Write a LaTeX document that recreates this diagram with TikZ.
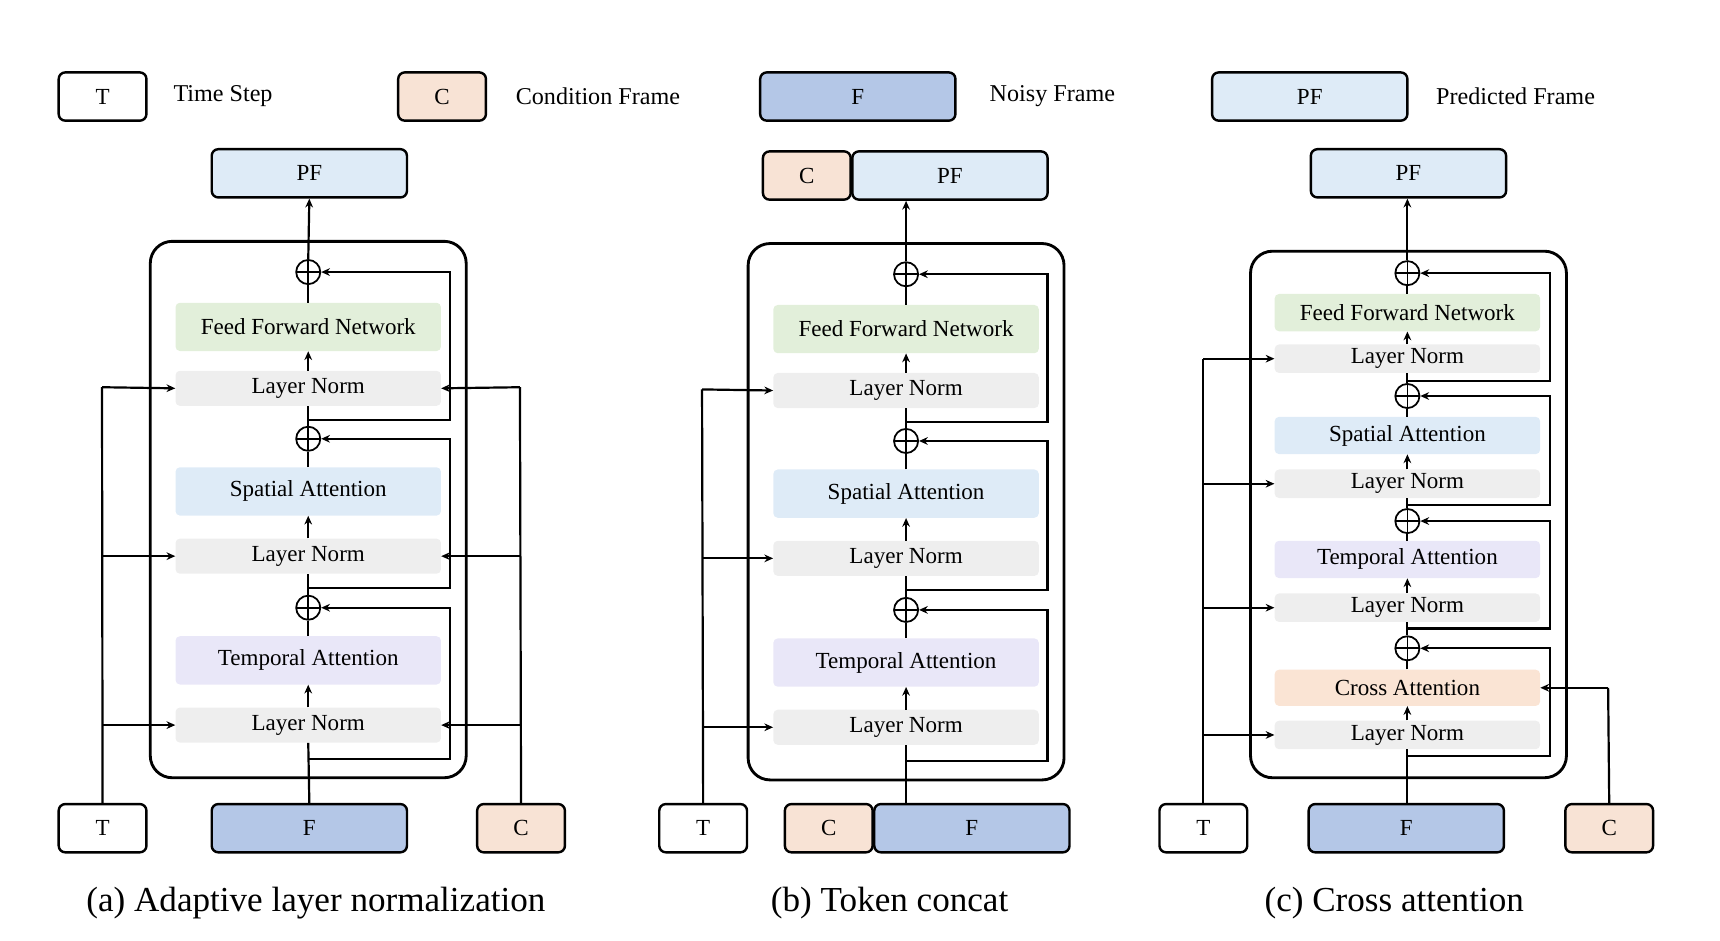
\documentclass[tikz,border=0pt]{standalone}
\usepackage{fontspec}
\setmainfont{Liberation Serif}
\usetikzlibrary{arrows.meta}
\definecolor{cG}{HTML}{E2EFDA}
\definecolor{cB}{HTML}{DEEBF7}
\definecolor{cP}{HTML}{E9E7F8}
\definecolor{cL}{HTML}{EEEEEE}
\definecolor{cO}{HTML}{FAE4D4}
\definecolor{cF}{HTML}{B4C7E7}
\definecolor{cC}{HTML}{F8E3D5}
\tikzset{
 base/.style={inner sep=0pt,font=\fontsize{21}{21}\selectfont},
 blk/.style={base,rounded corners=4pt,minimum width=242pt},
 ln/.style={blk,fill=cL,minimum height=32pt},
 big/.style={blk,minimum height=44pt},
 key/.style={base,draw,line width=2.2pt,rounded corners=6pt,minimum height=44pt},
 kT/.style={key,fill=white,minimum width=80pt},
 kC/.style={key,fill=cC,minimum width=80pt},
 kF/.style={key,fill=cF,minimum width=178pt},
 kPF/.style={key,fill=cB,minimum width=178pt},
 plus/.style={circle,draw,line width=1.6pt,minimum size=22pt,inner sep=0pt,
   path picture={\draw[line width=1.6pt] (path picture bounding box.north)--(path picture bounding box.south) (path picture bounding box.west)--(path picture bounding box.east);}},
 ln2/.style={line width=2pt},
 arr/.style={line width=2pt,-{Stealth[length=8pt,width=7pt]}},
 outer/.style={line width=2.6pt,rounded corners=20pt},
 captxt/.style={base,font=\fontsize{32}{32}\selectfont,anchor=base},
 leg/.style={base,anchor=west,font=\fontsize{22}{22}\selectfont},
}
\begin{document}
\begin{tikzpicture}[x=1pt,y=-1pt]
\useasboundingbox (0,0) rectangle (1568,857);
% legend
\node[kT] (lT) at (93.5,88) {T};
\node[leg] (lTt) at (158,88) {Time Step};
\node[kC] (lC) at (403,88) {C};
\node[leg] (lCt) at (470,88) {Condition Frame};
\node[kF] (lF) at (782,88) {F};
\node[leg] (lFt) at (902,88) {Noisy Frame};
\node[kPF] (lP) at (1194,88) {PF};
\node[leg] (lPt) at (1309,88) {Predicted Frame};

% ---------- panels a and b
\foreach \p/\dx/\dy in {a/0/0,b/545/2}{
\begin{scope}[shift={(\dx,\dy)}]
\draw[outer] (137,220) rectangle (425,709);
\node[big,fill=cG] (\p FF) at (281,298) {Feed Forward Network};
\node[ln] (\p L3) at (281,354) {Layer Norm};
\node[big,fill=cB] (\p SA) at (281,448) {Spatial Attention};
\node[ln] (\p L2) at (281,507) {Layer Norm};
\node[big,fill=cP] (\p TA) at (281,602) {Temporal Attention};
\node[ln] (\p L1) at (281,661) {Layer Norm};
\node[plus] (\p P3) at (281,248) {};
\node[plus] (\p P2) at (281,400) {};
\node[plus] (\p P1) at (281,554) {};
\coordinate (\p r3) at (281,383); \coordinate (\p r3c) at (410,383);
\coordinate (\p r2) at (281,536); \coordinate (\p r2c) at (410,536);
\coordinate (\p r1) at (281,692); \coordinate (\p r1c) at (410,692);
\draw[arr] (\p r3) -- (\p r3c) |- (\p P3.east);
\draw[arr] (\p r2) -- (\p r2c) |- (\p P2.east);
\draw[arr] (\p r1) -- (\p r1c) |- (\p P1.east);
\draw[arr] (\p L1.north) -- (\p TA.south);
\draw[ln2] (\p TA.north) -- (\p P1.south);
\draw[ln2] (\p P1.north) -- (\p L2.south);
\draw[arr] (\p L2.north) -- (\p SA.south);
\draw[ln2] (\p SA.north) -- (\p P2.south);
\draw[ln2] (\p P2.north) -- (\p L3.south);
\draw[arr] (\p L3.north) -- (\p FF.south);
\draw[ln2] (\p FF.north) -- (\p P3.south);
\end{scope}
}
% panel a keys
\node[kPF] (aPF) at (282,158) {PF};
\node[kT] (aT) at (93.5,755) {T};
\node[kF] (aF) at (282,755) {F};
\node[kC] (aC) at (475,755) {C};
\draw[arr] (aP3.north) -- (aPF.south);
\draw[ln2] (aF.north) -- (aL1.south);
\coordinate (aTt) at (93,353); \coordinate (aCt) at (474,353);
\draw[ln2] (aT.north) -- (aTt);
\draw[arr] (aTt) -- (aL3.west);
\draw[arr] (aT.north |- aL2.west) -- (aL2.west);
\draw[arr] (aT.north |- aL1.west) -- (aL1.west);
\draw[ln2] (aC.north) -- (aCt);
\draw[arr] (aCt) -- (aL3.east);
\draw[arr] (aC.north |- aL2.east) -- (aL2.east);
\draw[arr] (aC.north |- aL1.east) -- (aL1.east);
\node[captxt] (aCap) at (288,831) {(a) Adaptive layer normalization};
% panel b keys
\node[kC] (bC2) at (735.5,160) {C};
\node[kPF] (bPF) at (866,160) {PF};
\node[kT] (bT) at (641,755) {T};
\node[kC] (bC) at (755.5,755) {C};
\node[kF] (bF) at (886,755) {F};
\draw[arr] (bP3.north) -- (bPF.south west -| bP3.north);
\draw[ln2] (bF.north west -| bL1.south) -- (bL1.south);
\coordinate (bTt) at (640,355);
\draw[ln2] (bT.north) -- (bTt);
\draw[arr] (bTt) -- (bL3.west);
\draw[arr] (bT.north |- bL2.west) -- (bL2.west);
\draw[arr] (bT.north |- bL1.west) -- (bL1.west);
\node[captxt] (bCap) at (811,831) {(b) Token concat};

% ---------- panel c
\draw[outer] (1140,229) rectangle (1428,709);
\node[blk,fill=cG,minimum height=34pt] (cFF) at (1283,285) {Feed Forward Network};
\node[ln,minimum height=26pt] (cL4) at (1283,327) {Layer Norm};
\node[blk,fill=cB,minimum height=34pt] (cSA) at (1283,397) {Spatial Attention};
\node[ln,minimum height=26pt] (cL3) at (1283,441) {Layer Norm};
\node[blk,fill=cP,minimum height=34pt] (cTA) at (1283,510) {Temporal Attention};
\node[ln,minimum height=26pt] (cL2) at (1283,554) {Layer Norm};
\node[blk,fill=cO,minimum height=33pt] (cCA) at (1283,627) {Cross Attention};
\node[ln,minimum height=26pt] (cL1) at (1283,670) {Layer Norm};
\node[plus] (cP4) at (1283,249) {};
\node[plus] (cP3) at (1283,361) {};
\node[plus] (cP2) at (1283,475) {};
\node[plus] (cP1) at (1283,591) {};
\coordinate (cr4) at (1283,347); \coordinate (cr4c) at (1413,347);
\coordinate (cr3) at (1283,460); \coordinate (cr3c) at (1413,460);
\coordinate (cr2) at (1283,573); \coordinate (cr2c) at (1413,573);
\coordinate (cr1) at (1283,689); \coordinate (cr1c) at (1413,689);
\draw[arr] (cr4) -- (cr4c) |- (cP4.east);
\draw[arr] (cr3) -- (cr3c) |- (cP3.east);
\draw[arr] (cr2) -- (cr2c) |- (cP2.east);
\draw[arr] (cr1) -- (cr1c) |- (cP1.east);
\draw[arr] (cL1.north) -- (cCA.south);
\draw[ln2] (cCA.north) -- (cP1.south);
\draw[ln2] (cP1.north) -- (cL2.south);
\draw[arr] (cL2.north) -- (cTA.south);
\draw[ln2] (cTA.north) -- (cP2.south);
\draw[ln2] (cP2.north) -- (cL3.south);
\draw[arr] (cL3.north) -- (cSA.south);
\draw[ln2] (cSA.north) -- (cP3.south);
\draw[ln2] (cP3.north) -- (cL4.south);
\draw[arr] (cL4.north) -- (cFF.south);
\draw[ln2] (cFF.north) -- (cP4.south);
\node[kPF] (cPF) at (1284,158) {PF};
\node[kT] (cT) at (1097,755) {T};
\node[kF] (cF) at (1282,755) {F};
\node[kC] (cC) at (1467,755) {C};
\draw[arr] (cP4.north) -- (cPF.south west -| cP4.north);
\draw[ln2] (cF.north west -| cL1.south) -- (cL1.south);
\coordinate (cTt) at (1097,327);
\draw[ln2] (cT.north) -- (cTt);
\draw[arr] (cTt) -- (cL4.west);
\draw[arr] (cT.north |- cL3.west) -- (cL3.west);
\draw[arr] (cT.north |- cL2.west) -- (cL2.west);
\draw[arr] (cT.north |- cL1.west) -- (cL1.west);
\coordinate (cCt) at (1466,627);
\draw[ln2] (cC.north) -- (cCt);
\draw[arr] (cCt) -- (cCA.east);
\node[captxt] (cCap) at (1271,831) {(c) Cross attention};
\end{tikzpicture}
\end{document}
